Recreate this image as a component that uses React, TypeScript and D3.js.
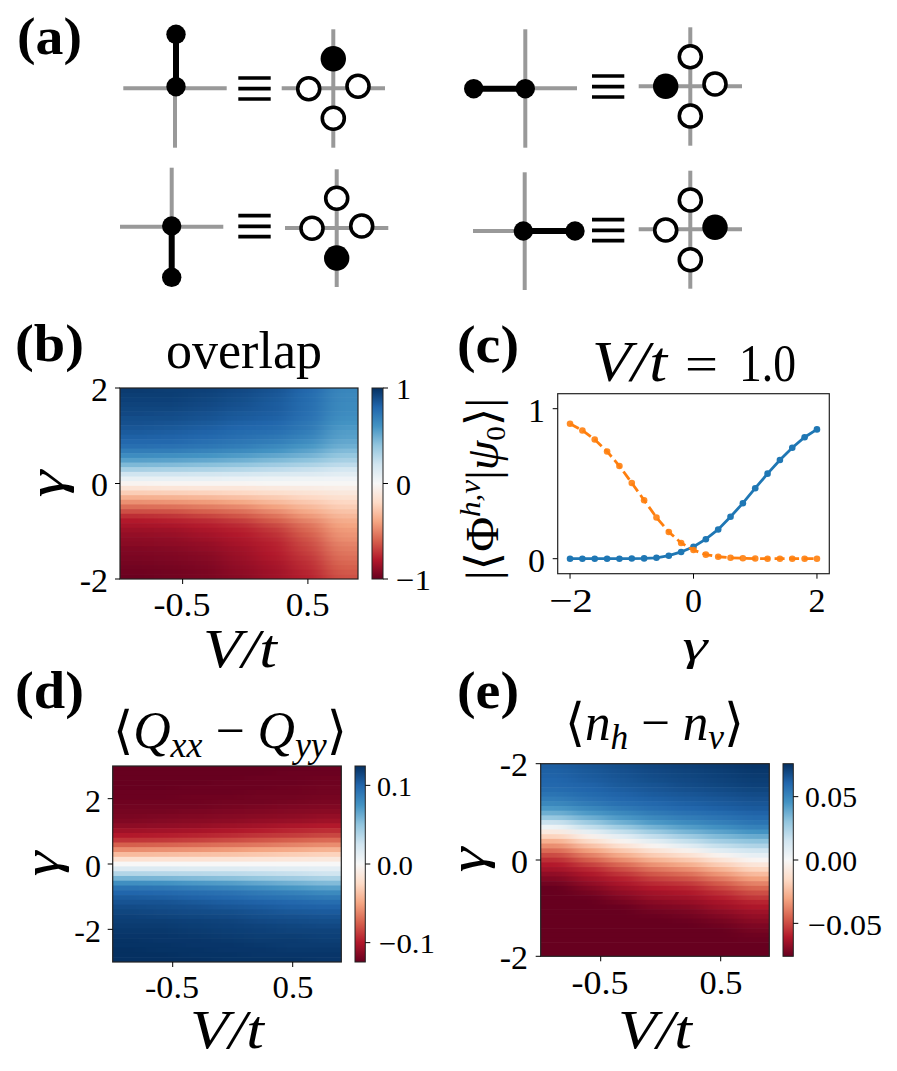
import React from "react";
import * as d3 from "d3";

// ---------- data ----------
const rdBuStops = ["#67001f","#b2182b","#d6604d","#f4a582","#fddbc7","#f7f7f7","#d1e5f0","#92c5de","#4393c3","#2166ac","#053061"];
const gammaPoints = [-2,-1.8,-1.6,-1.4,-1.2,-1,-0.8,-0.6,-0.4,-0.2,0,0.2,0.4,0.6,0.8,1,1.2,1.4,1.6,1.8,2];
const overlapH = [0,0,0,0,0,0.001,0.002,0.006,0.02,0.045,0.08,0.13,0.195,0.28,0.37,0.47,0.567,0.658,0.74,0.81,0.862];
const overlapV = [0.9,0.855,0.795,0.715,0.618,0.505,0.39,0.275,0.178,0.105,0.058,0.027,0.013,0.006,0.003,0.001,0,0,0,0,0];

// heat maps: one list per sampled column, top row to bottom row, in percent of the colour bar limit
const overlapColumns = [
  [96,95,94,93,92,91,89,88,86,84,82,79,76,70,63,55,45,33,20,8,-3,-14,-25,-36,-46,-56,-65,-74,-80,-83,-86,-88,-90,-91,-93,-94,-95,-96,-97,-98,-99],
  [95,95,94,93,92,90,89,87,85,83,81,79,75,70,62,54,44,32,20,8,-2,-13,-24,-35,-45,-55,-64,-72,-78,-82,-85,-87,-89,-90,-92,-93,-94,-95,-96,-97,-97],
  [94,93,92,91,90,88,87,85,83,81,79,76,73,67,60,52,42,31,19,8,-2,-12,-23,-33,-43,-52,-60,-68,-75,-79,-82,-84,-86,-88,-89,-91,-92,-93,-94,-95,-95],
  [91,90,89,88,87,85,84,82,80,78,76,73,70,64,57,49,40,29,18,7,-2,-12,-21,-30,-39,-48,-56,-63,-70,-75,-78,-80,-82,-83,-85,-86,-87,-88,-89,-90,-91],
  [87,86,85,84,84,83,82,80,78,76,73,70,65,60,53,45,36,26,16,6,-1,-10,-18,-26,-33,-41,-48,-55,-61,-67,-71,-74,-76,-78,-79,-80,-81,-83,-84,-85,-85],
  [79,78,78,77,77,76,75,73,72,70,67,63,59,54,48,41,32,23,14,5,-1,-8,-14,-21,-27,-33,-38,-44,-50,-55,-58,-61,-64,-66,-68,-70,-72,-74,-75,-77,-78],
  [66,65,65,64,64,63,62,60,58,56,55,52,49,44,39,33,26,18,11,4,-1,-6,-11,-16,-21,-25,-29,-33,-37,-40,-43,-45,-47,-50,-52,-54,-56,-58,-60,-62,-64],
];
const quadrupoleColumns = [
  [-100,-100,-100,-100,-100,-99,-99,-98,-97,-96,-95,-93,-90,-85,-80,-72,-60,-47,-32,-16,0,14,30,47,62,74,80,84,87,90,92,94,95,96,97,98,99,99,100,100,100],
  [-100,-100,-100,-100,-100,-99,-99,-98,-97,-96,-94,-92,-89,-84,-79,-71,-59,-46,-31,-15,0,14,29,46,61,73,79,83,87,89,91,93,95,96,97,98,98,99,99,100,100],
  [-100,-100,-100,-100,-99,-99,-98,-98,-97,-95,-93,-91,-88,-83,-77,-69,-57,-45,-30,-15,0,13,28,44,58,70,77,81,85,88,90,92,94,95,96,97,98,98,99,99,100],
  [-100,-100,-100,-99,-99,-99,-98,-97,-96,-94,-92,-90,-86,-81,-75,-66,-55,-43,-29,-14,0,13,27,42,56,67,75,79,83,86,89,91,93,94,95,96,97,98,98,99,99],
  [-100,-100,-99,-99,-99,-98,-97,-97,-95,-93,-91,-88,-84,-79,-72,-63,-53,-40,-27,-13,0,12,25,39,52,63,71,76,81,84,87,89,91,93,94,95,96,97,98,98,99],
  [-100,-99,-99,-99,-98,-98,-97,-96,-94,-92,-90,-87,-82,-76,-70,-60,-50,-38,-25,-12,0,11,23,36,48,59,68,74,79,82,85,88,90,92,93,95,96,96,97,98,99],
  [-99,-99,-98,-98,-97,-97,-96,-95,-93,-91,-88,-85,-80,-74,-67,-57,-47,-35,-23,-11,0,10,20,32,44,55,64,71,77,81,84,87,89,91,93,94,95,96,97,98,98],
];
const densityColumns = [
  [83,82,81,80,79,77,74,70,65,58,49,38,22,5,-10,-23,-36,-47,-57,-66,-74,-80,-84,-89,-93,-97,-100,-100,-100,-100,-100,-100,-100,-100,-100,-100,-100,-100,-100,-100,-100],
  [86,85,84,83,81,80,78,75,71,65,58,49,37,24,9,-5,-18,-30,-41,-51,-60,-69,-76,-81,-85,-89,-93,-96,-99,-100,-100,-100,-100,-100,-100,-100,-100,-100,-100,-100,-100],
  [89,88,87,86,85,83,81,79,76,71,65,58,49,37,24,10,-3,-15,-27,-37,-47,-57,-65,-72,-78,-82,-86,-89,-93,-96,-99,-100,-100,-100,-100,-100,-100,-100,-100,-100,-100],
  [92,91,90,89,87,86,84,82,79,76,71,65,58,48,37,25,11,-2,-14,-25,-35,-45,-54,-62,-69,-75,-80,-84,-87,-91,-94,-97,-99,-100,-100,-100,-100,-100,-100,-100,-100],
  [94,93,92,91,90,88,86,84,82,79,75,70,64,56,47,36,24,11,-4,-16,-27,-37,-47,-56,-64,-71,-77,-81,-85,-88,-92,-95,-97,-99,-100,-100,-100,-100,-100,-100,-100],
  [96,95,94,93,92,90,88,86,84,82,78,74,69,62,54,45,35,24,12,-3,-14,-25,-35,-44,-53,-61,-68,-74,-79,-83,-86,-90,-93,-96,-98,-100,-100,-100,-100,-100,-100],
  [98,97,96,95,94,92,90,88,86,84,81,78,74,68,60,51,41,31,20,9,-2,-12,-22,-32,-41,-50,-58,-65,-71,-77,-81,-85,-88,-91,-94,-96,-98,-99,-100,-100,-100],
];

const vTicks = [-0.5, 0.5];
const vTickLabels = ["-0.5", "0.5"];
const overlapGammaTicks = [-2, 0, 2];
const overlapGammaLabels = ["-2", "0", "2"];
const overlapBarTicks = [-1, 0, 1];
const overlapBarLabels = ["\u22121", "0", "1"];
const quadGammaTicks = [-2, 0, 2];
const quadGammaLabels = ["-2", "0", "2"];
const quadBarTicks = [-0.1, 0, 0.1];
const quadBarLabels = ["\u22120.1", "0.0", "0.1"];
const densGammaTicks = [-2, 0, 2];
const densGammaLabels = ["-2", "0", "-2"];
const densBarTicks = [-0.05, 0, 0.05];
const densBarLabels = ["\u22120.05", "0.00", "0.05"];
const lineXTicks = [-2, 0, 2];
const lineXLabels = ["\u22122", "0", "2"];
const lineYTicks = [0, 1];
const lineYLabels = ["0", "1"];

// ---------- schematic of panel (a) ----------
type Diagram = { h: number[]; v: number[]; dimer: number[]; bars: number[]; cross: number[]; filled: number; sites: number[][] };
const diagrams: Diagram[] = [
  { h: [123.3, 226.7, 88.3], v: [175, 36, 147.7], dimer: [176, 34.3, 176, 86.7], bars: [238.3, 270.7, 78, 88.7, 99],
    cross: [281.7, 385, 88.3, 333.3, 29.3, 147.7], filled: 0, sites: [[333.3, 58.7], [308.7, 88.7], [358, 86.3], [333.3, 118.3]] },
  { h: [120, 223.3, 226.7], v: [171.7, 167.7, 270], dimer: [171.7, 226, 171.7, 277.3], bars: [238.3, 270.7, 215.7, 226.3, 236.7],
    cross: [285, 388.3, 228, 336.7, 169.3, 287], filled: 3, sites: [[336.7, 198.3], [312, 228.3], [361.7, 226], [336.7, 258]] },
  { h: [480, 577, 88.3], v: [525.3, 29.3, 147.7], dimer: [473.7, 88.7, 525.3, 88.7], bars: [592, 624.3, 76, 86.7, 97],
    cross: [638.7, 742, 86.3, 690.3, 27.3, 145.7], filled: 1, sites: [[690.3, 56.7], [665.7, 86.3], [715, 84], [690.3, 116]] },
  { h: [473, 570, 231], v: [524.7, 172.3, 290], dimer: [523.3, 231, 575, 231], bars: [592, 624.3, 219.7, 230.3, 240.7],
    cross: [638.7, 742, 229.3, 690.3, 170.7, 288.7], filled: 2, sites: [[690.3, 200], [665.7, 230], [715, 227.3], [690.3, 259.7]] },
];

const SERIF = "'Liberation Serif', serif";
const MATH_FALLBACK = "'Liberation Serif', 'DejaVu Serif', serif";
const GREY = "#999999";
const colorScale = d3.scaleLinear<string>().domain(d3.range(-100, 101, 20)).range(rdBuStops).clamp(true);

function Label({ x, y, size, children, anchor = "start", italic = false, bold = false, len, rotate }: any) {
  return (
    <text x={x} y={y} fontFamily={MATH_FALLBACK} fontSize={size} textAnchor={anchor}
      fontStyle={italic ? "italic" : "normal"} fontWeight={bold ? "bold" : "normal"} fill="#000"
      textLength={len} lengthAdjust={len ? "spacingAndGlyphs" : undefined}
      transform={rotate != null ? `rotate(${rotate} ${x} ${y})` : undefined}>
      {children}
    </text>
  );
}

function Heatmap({ id, box, bar, columns, xDomain, yDomain, yTicks, yLabels, barLimit, barTicks, barLabels, layout }: any) {
  const [x0, x1, y0, y1] = box;
  const x = d3.scaleLinear().domain(xDomain).range([x0, x1]);
  const y = d3.scaleLinear().domain(yDomain).range([y0, y1]);
  const colBand = d3.scaleBand<number>().domain(d3.range(columns.length)).range([x0, x1]);
  const rowBand = d3.scaleBand<number>().domain(d3.range(columns[0].length)).range([y0, y1]);
  const barY = d3.scaleLinear().domain([-barLimit, barLimit]).range([y1, y0]);
  const pad = 40;
  return (
    <g>
      <defs>
        <clipPath id={`clip-${id}`}><rect x={x0} y={y0} width={x1 - x0} height={y1 - y0} /></clipPath>
        <filter id={`soft-${id}`} filterUnits="userSpaceOnUse" x={x0 - pad} y={y0 - pad} width={x1 - x0 + 2 * pad} height={y1 - y0 + 2 * pad}
          colorInterpolationFilters="sRGB">
          <feGaussianBlur stdDeviation="11 0.6" />
        </filter>
        <linearGradient id={`bar-${id}`} x1="0" y1="1" x2="0" y2="0">
          {rdBuStops.map((c, i) => <stop key={i} offset={i / (rdBuStops.length - 1)} stopColor={c} />)}
        </linearGradient>
      </defs>
      <g clipPath={`url(#clip-${id})`}>
        <g filter={`url(#soft-${id})`}>
          {columns.map((col: number[], c: number) => col.map((v: number, r: number) => {
            const left = colBand(c)! - (c === 0 ? pad : 0);
            const right = colBand(c)! + colBand.bandwidth() + (c === columns.length - 1 ? pad : 0);
            const top = rowBand(r)! - (r === 0 ? pad : 0);
            const bottom = rowBand(r)! + rowBand.bandwidth() + (r === col.length - 1 ? pad : 0);
            return <rect key={`${c}-${r}`} x={left} y={top} width={right - left + 0.6} height={bottom - top + 0.6} fill={colorScale(v)} />;
          }))}
        </g>
      </g>
      <rect x={x0} y={y0} width={x1 - x0} height={y1 - y0} fill="none" stroke="#222" strokeWidth={1.2} />
      {vTicks.map((t, i) => (
        <g key={t}>
          <line x1={x(t)} x2={x(t)} y1={y1} y2={y1 + 5} stroke="#000" strokeWidth={1} />
          <Label x={layout.xLabelX[i]} y={layout.xLabelY} size={layout.tickSize} anchor="middle" len={layout.xLabelLen[i]}>{vTickLabels[i]}</Label>
        </g>
      ))}
      {yTicks.map((t: number, i: number) => (
        <g key={t}>
          <line x1={x0 - 5} x2={x0} y1={y(t)} y2={y(t)} stroke="#000" strokeWidth={1} />
          <Label x={layout.yLabelX} y={layout.yLabelY[i]} size={layout.tickSize} anchor="end">{yLabels[i]}</Label>
        </g>
      ))}
      <rect x={bar[0]} y={y0} width={bar[1] - bar[0]} height={y1 - y0} fill={`url(#bar-${id})`} stroke="#222" strokeWidth={1} />
      {barTicks.map((t: number, i: number) => (
        <g key={t}>
          <line x1={bar[1]} x2={bar[1] + 5} y1={barY(t)} y2={barY(t)} stroke="#000" strokeWidth={1} />
          <Label x={layout.barLabelX[i]} y={layout.barLabelY[i]} size={layout.barSize} len={layout.barLabelLen[i]}>{barLabels[i]}</Label>
        </g>
      ))}
    </g>
  );
}

function LinePanel() {
  const x = d3.scaleLinear().domain([-2.2, 2.2]).range([557.7, 829.3]);
  const y = d3.scaleLinear().domain([0, 1]).range([558.7, 408.7]);
  const line = d3.line<number>().x((_, i) => x(gammaPoints[i])).y((d) => y(d));
  return (
    <g>
      <path d={line(overlapH)!} fill="none" stroke="#1f77b4" strokeWidth={2.8} />
      {overlapH.map((v, i) => <circle key={i} cx={x(gammaPoints[i])} cy={y(v)} r={3.3} fill="#1f77b4" />)}
      <path d={line(overlapV)!} fill="none" stroke="#ff7f0e" strokeWidth={2.8} strokeDasharray="10 4.5" />
      {overlapV.map((v, i) => <circle key={i} cx={x(gammaPoints[i])} cy={y(v)} r={3.3} fill="#ff7f0e" opacity={0.9} />)}
      <rect x={557.7} y={393.7} width={271.6} height={180} fill="none" stroke="#222" strokeWidth={1.2} />
      {lineXTicks.map((t, i) => (
        <g key={t}>
          <line x1={x(t)} x2={x(t)} y1={573.7} y2={578.7} stroke="#000" />
          <Label x={x(t) + (t < 0 ? 1 : 0)} y={612} size={34} anchor="middle" len={t < 0 ? 44 : undefined}>{lineXLabels[i]}</Label>
        </g>
      ))}
      {lineYTicks.map((t, i) => (
        <g key={t}>
          <line x1={552.7} x2={557.7} y1={y(t)} y2={y(t)} stroke="#000" />
          <Label x={545} y={y(t) + 13.5} size={34} anchor="end">{lineYLabels[i]}</Label>
        </g>
      ))}
    </g>
  );
}

export default function App() {
  return (
    <svg width={897} height={1071} viewBox="0 0 897 1071" style={{ position: "absolute", left: 0, top: 0, display: "block", background: "#fff" }} fontFamily={SERIF}>
      {/* panel a */}
      {diagrams.map((d, i) => (
        <g key={i}>
          <line x1={d.h[0]} x2={d.h[1]} y1={d.h[2]} y2={d.h[2]} stroke={GREY} strokeWidth={4} />
          <line x1={d.v[0]} x2={d.v[0]} y1={d.v[1]} y2={d.v[2]} stroke={GREY} strokeWidth={4} />
          <line x1={d.dimer[0]} y1={d.dimer[1]} x2={d.dimer[2]} y2={d.dimer[3]} stroke="#000" strokeWidth={6} />
          <circle cx={d.dimer[0]} cy={d.dimer[1]} r={9.7} fill="#000" />
          <circle cx={d.dimer[2]} cy={d.dimer[3]} r={9.7} fill="#000" />
          {d.bars.slice(2).map((b, j) => <line key={j} x1={d.bars[0]} x2={d.bars[1]} y1={b} y2={b} stroke="#000" strokeWidth={3.7} />)}
          <line x1={d.cross[0]} x2={d.cross[1]} y1={d.cross[2]} y2={d.cross[2]} stroke={GREY} strokeWidth={4} />
          <line x1={d.cross[3]} x2={d.cross[3]} y1={d.cross[4]} y2={d.cross[5]} stroke={GREY} strokeWidth={4} />
          {d.sites.map((s, j) => j === d.filled
            ? <circle key={j} cx={s[0]} cy={s[1]} r={12.7} fill="#000" />
            : <circle key={j} cx={s[0]} cy={s[1]} r={11} fill="#fff" stroke="#000" strokeWidth={3.6} />)}
        </g>
      ))}
      <Label x={17} y={54} size={52} bold len={65}>(a)</Label>
      <Label x={15} y={361} size={52} bold len={69}>(b)</Label>
      <Label x={457} y={362} size={52} bold len={62}>(c)</Label>
      <Label x={15} y={708} size={52} bold len={69}>(d)</Label>
      <Label x={457} y={708} size={52} bold len={62}>(e)</Label>

      {/* panel b */}
      <Heatmap id="b" box={[120, 358, 388, 579]} bar={[372, 383]} columns={overlapColumns} xDomain={[-1, 0.9]} yDomain={[2, -2]}
        yTicks={overlapGammaTicks} yLabels={overlapGammaLabels} barLimit={1} barTicks={overlapBarTicks} barLabels={overlapBarLabels}
        layout={{ tickSize: 34, barSize: 30, xLabelX: [182, 307.7], xLabelLen: [57, 44], xLabelY: 616, yLabelX: 108, yLabelY: [592, 496, 401], barLabelX: [396, 396, 396], barLabelLen: [35, undefined, undefined], barLabelY: [590, 495, 399] }} />
      <Label x={244} y={368} size={52} anchor="middle" len={156}>overlap</Label>
      <Label x={240} y={667} size={54} anchor="middle" italic len={74}>V/t</Label>
      <Label x={63} y={484} size={50} anchor="middle" italic rotate={-90} len={27}>γ</Label>

      {/* panel c */}
      <LinePanel />
      <Label x={592} y={381} size={56} italic len={75}>V/t</Label>
      <Label x={685} y={381} size={50} len={33}>=</Label>
      <Label x={739} y={381} size={52} len={57}>1.0</Label>
      <Label x={695} y={660} size={44} anchor="middle" italic len={25}>γ</Label>
      <text x={498} y={580} transform="rotate(-90 498 580)" fontFamily={MATH_FALLBACK} fontSize={46} textLength={182} lengthAdjust="spacingAndGlyphs">
        |⟨Φ<tspan fontSize={30} fontStyle="italic" dy={-18}>h,v</tspan><tspan dy={18}>|</tspan><tspan fontStyle="italic">ψ</tspan><tspan fontSize={28} dy={7}>0</tspan><tspan dy={-7}>⟩|</tspan>
      </text>

      {/* panel d */}
      <Heatmap id="d" box={[112.7, 341.3, 766, 962]} bar={[355, 365.3]} columns={quadrupoleColumns} xDomain={[-1, 0.905]} yDomain={[3, -3]}
        yTicks={quadGammaTicks} yLabels={quadGammaLabels} barLimit={0.1246} barTicks={quadBarTicks} barLabels={quadBarLabels}
        layout={{ tickSize: 32, barSize: 28, xLabelX: [172, 293], xLabelLen: [54, 41], xLabelY: 998, yLabelX: 101, yLabelY: [942, 877, 812], barLabelX: [379, 377, 377], barLabelLen: [56, 36, 35], barLabelY: [953, 875, 796] }} />
      <text x={113} y={748} fontFamily={MATH_FALLBACK} fontSize={52} textLength={234} lengthAdjust="spacingAndGlyphs">
        ⟨<tspan fontStyle="italic">Q</tspan><tspan fontStyle="italic" fontSize={36} dy={9}>xx</tspan><tspan dy={-9}> − </tspan><tspan fontStyle="italic">Q</tspan><tspan fontStyle="italic" fontSize={36} dy={9}>yy</tspan><tspan dy={-9}>⟩</tspan>
      </text>
      <Label x={227} y={1048} size={54} anchor="middle" italic len={74}>V/t</Label>
      <Label x={58} y={864} size={50} anchor="middle" italic rotate={-90} len={25}>γ</Label>

      {/* panel e */}
      <Heatmap id="e" box={[540.7, 769.3, 763.7, 956.3]} bar={[783, 793.3]} columns={densityColumns} xDomain={[-1, 0.905]} yDomain={[-2, 2]}
        yTicks={densGammaTicks} yLabels={densGammaLabels} barLimit={0.076} barTicks={densBarTicks} barLabels={densBarLabels}
        layout={{ tickSize: 34, barSize: 30, xLabelX: [600, 721], xLabelLen: [57, 43], xLabelY: 994, yLabelX: 528, yLabelY: [776, 873, 969], barLabelX: [808, 805, 805], barLabelLen: [74, 52, 52], barLabelY: [935, 871, 807] }} />
      <text x={565} y={740} fontFamily={MATH_FALLBACK} fontSize={52} textLength={179} lengthAdjust="spacingAndGlyphs">
        ⟨<tspan fontStyle="italic">n</tspan><tspan fontStyle="italic" fontSize={36} dy={9}>h</tspan><tspan dy={-9}> − </tspan><tspan fontStyle="italic">n</tspan><tspan fontStyle="italic" fontSize={36} dy={9}>v</tspan><tspan dy={-9}>⟩</tspan>
      </text>
      <Label x={655} y={1048} size={54} anchor="middle" italic len={74}>V/t</Label>
      <Label x={484} y={860} size={50} anchor="middle" italic rotate={-90} len={25}>γ</Label>
    </svg>
  );
}
